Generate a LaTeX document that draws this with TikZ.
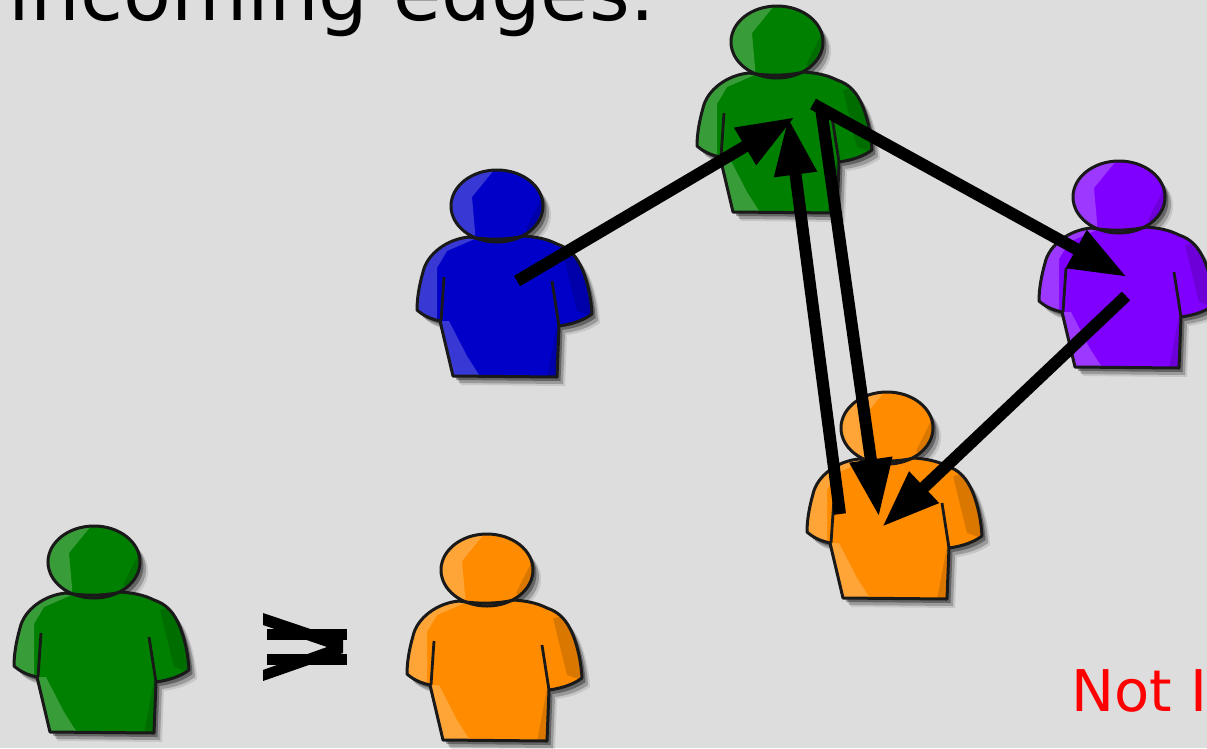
\documentclass[tikz,border=0pt]{standalone}
\usepackage{fontspec}
\setmainfont{DejaVu Sans}
\usetikzlibrary{arrows.meta}
\definecolor{bgc}{HTML}{DDDDDD}
\definecolor{cgreen}{HTML}{008000}
\definecolor{cblue}{HTML}{0000C8}
\definecolor{cpurple}{HTML}{8000FF}
\definecolor{corange}{HTML}{FF8C00}
\newcommand\headpath{(0,0) ellipse [x radius=46,y radius=36]}
\newcommand\bodypath{(-28,31) .. controls (-50,33) and (-70,48) .. (-74,66)
  .. controls (-78,80) and (-80,93) .. (-80,104)
  .. controls (-72,111) and (-65,113) .. (-57,115)
  -- (-44,170) -- (60,171) -- (62,120)
  .. controls (76,118) and (87,114) .. (95,108)
  .. controls (94,90) and (90,75) .. (86,65)
  .. controls (80,50) and (72,42) .. (60,38)
  .. controls (50,33) and (40,31) .. (27,30)
  .. controls (10,34) and (-10,34) .. (-28,31) -- cycle}
\tikzset{
  x=1pt,y=-1pt,
  personspot/.style={inner sep=0pt,minimum size=0pt,draw=none},
  conn/.style={line width=12pt,draw=black,-{Triangle[length=58pt,width=40pt]}},
  pics/person/.style={code={
    \begin{scope}[shift={(8,9)},fill=black,opacity=.10]
      \fill \headpath; \fill \bodypath;
    \end{scope}
    \begin{scope}[shift={(6,7)},fill=black,opacity=.22]
      \fill \headpath; \fill \bodypath;
    \end{scope}
    \begin{scope}[shift={(3.5,4)},fill=black,opacity=.35]
      \fill \headpath; \fill \bodypath;
    \end{scope}
    \fill[#1] \headpath;
    \fill[#1] \bodypath;
    \begin{scope}
      \clip \headpath;
      \fill[#1!78!white] (-60,-50) -- (-3,-36) -- (-25,-9) -- (-22,25) -- (-22,50) -- (-60,50) -- cycle;
      \fill[#1!85!black] (60,-20) -- (45,-9) -- (29,23) -- (60,40) -- cycle;
    \end{scope}
    \begin{scope}
      \clip \bodypath;
      \fill[#1!78!white] (-95,20) -- (-20,32) -- (-50,45) -- (-60,62) -- (-60,120) -- (-95,120) -- cycle;
      \fill[#1!78!white] (-55,115) -- (-48,115) -- (-30,150) -- (-16,172) -- (-50,175) -- cycle;
      \fill[#1!85!black] (66,48) -- (80,105) -- (110,115) -- (110,40) -- cycle;
      \fill[#1!85!black] (60,118) -- (50,172) -- (65,172) -- (65,118) -- cycle;
    \end{scope}
    \draw[line width=3pt,black!90] \headpath;
    \draw[line width=3pt,black!90,line join=round] \bodypath;
    \draw[line width=2.8pt,black!90] (-53,71) -- (-56,115);
    \draw[line width=2.8pt,black!90] (55,75) -- (62,120);
  }}
}
\begin{document}
\begin{tikzpicture}
\useasboundingbox (0,0) rectangle (1207,748);
\clip (0,0) rectangle (1207,748);
\fill[bgc] (0,0) rectangle (1207,748);

\node[anchor=base west,inner sep=0pt,font=\fontsize{78.3}{78.3}\selectfont] (title) at (8.5,20.5) {incoming edges:};
\node[anchor=base west,inner sep=0pt,text=red,font=\fontsize{57.5}{60}\selectfont] (notlabel) at (1071,711) {Not I};

\node[personspot] (blue) at (497,206) {};
\node[personspot] (greentop) at (777,42) {};
\node[personspot] (purple) at (1119,197) {};
\node[personspot] (orange) at (887,428) {};
\node[personspot] (greenbot) at (94,562) {};
\node[personspot] (orangebot) at (487,570) {};

\pic at (blue) {person=cblue};
\pic at (greentop) {person=cgreen};
\pic at (purple) {person=cpurple};
\pic at (orange) {person=corange};
\pic at (greenbot) {person=cgreen};
\pic at (orangebot) {person=corange};

\draw[conn] ([shift={(20,75)}]blue.center) -- ([shift={(18,75)}]greentop.center);
\draw[conn] ([shift={(-47,86)}]orange.center) -- ([shift={(11,75)}]greentop.center);
\draw[conn] ([shift={(44,66)}]greentop.center) -- ([shift={(-8,89)}]orange.center);
\draw[conn] ([shift={(36,62)}]greentop.center) -- ([shift={(8,80)}]purple.center);
\draw[conn] ([shift={(7,99)}]purple.center) -- ([shift={(-5,99)}]orange.center);

% the overprinted comparison sign
\fill[black] (267,629) rectangle (347,640);
\fill[black] (267,654) rectangle (347,665);
\fill[black] (263,613) -- (343,640) -- (343,653) -- (263,681) -- (263,670) -- (327,647) -- (263,625) -- cycle;
\end{tikzpicture}
\end{document}
